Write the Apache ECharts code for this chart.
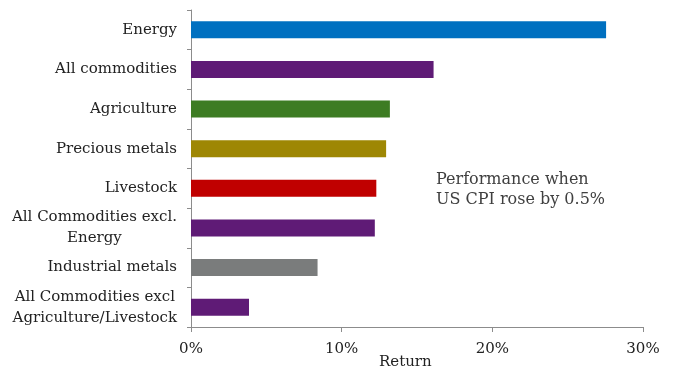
<!DOCTYPE html>
<html>
<head>
<meta charset="utf-8">
<script src="https://cdn.jsdelivr.net/npm/echarts@6/dist/echarts.min.js"></script>
<style>html,body{margin:0;padding:0;background:#fff;}#c{width:673px;height:367px;}</style>
</head>
<body>
<div id="c"></div>
<script>
const categories = ["Energy", "All commodities", "Agriculture", "Precious metals", "Livestock", "All Commodities excl.\nEnergy", "Industrial metals", "All Commodities excl\nAgriculture/Livestock"];
const returns = [27.55, 16.1, 13.2, 12.95, 12.3, 12.2, 8.4, 3.85];
const barColors = ["#0070C0", "#5F1B76", "#3D7C23", "#9E8704", "#C00000", "#5F1B76", "#7A7C7C", "#5F1B76"];
const xTicks = [0, 10, 20, 30];
const xAxisTitle = "Return";
const annotation = ["Performance when", "US CPI rose by 0.5%"];

const FONT = "DejaVu Serif";
const chart = echarts.init(document.getElementById('c'), null, {renderer: 'canvas'});
chart.setOption({
  animation: false,
  backgroundColor: '#ffffff',
  grid: {left: 191, top: 10, right: 30, bottom: 40, containLabel: false, outerBoundsMode: 'none'},
  xAxis: {
    type: 'value', min: xTicks[0], max: xTicks[xTicks.length - 1], interval: 10,
    axisLine: {show: true, lineStyle: {color: '#8c8c8c', width: 1}},
    axisTick: {show: true, length: 5, lineStyle: {color: '#8c8c8c'}},
    splitLine: {show: false},
    axisLabel: {formatter: v => v + '%', fontFamily: FONT, fontSize: 15, color: '#222', margin: 15}
  },
  yAxis: {
    type: 'category', data: categories, inverse: true,
    axisLine: {show: true, lineStyle: {color: '#8c8c8c', width: 1}},
    axisTick: {show: true, length: 4, lineStyle: {color: '#8c8c8c'}},
    axisLabel: {
      fontFamily: FONT, fontSize: 15, color: '#222', margin: 14, lineHeight: 21,
      formatter: v => v.indexOf('\n') >= 0 ? v.split('\n').map(s => '{c|' + s + '}').join('\n') : v,
      rich: {c: {align: 'center', fontFamily: FONT, fontSize: 15, color: '#222', lineHeight: 21}}
    }
  },
  series: [{
    type: 'bar', barWidth: 17,
    data: returns.map((v, i) => ({value: v, itemStyle: {color: barColors[i]}}))
  }],
  graphic: [{
    type: 'text', left: 436, top: 170,
    style: {text: annotation.join('\n'), font: '16px "' + FONT + '"', fill: '#404040', lineHeight: 20}
  }, {
    type: 'text', left: 379, top: 355,
    style: {text: xAxisTitle, font: '15px "' + FONT + '"', fill: '#222'}
  }]
});
</script>
</body>
</html>
